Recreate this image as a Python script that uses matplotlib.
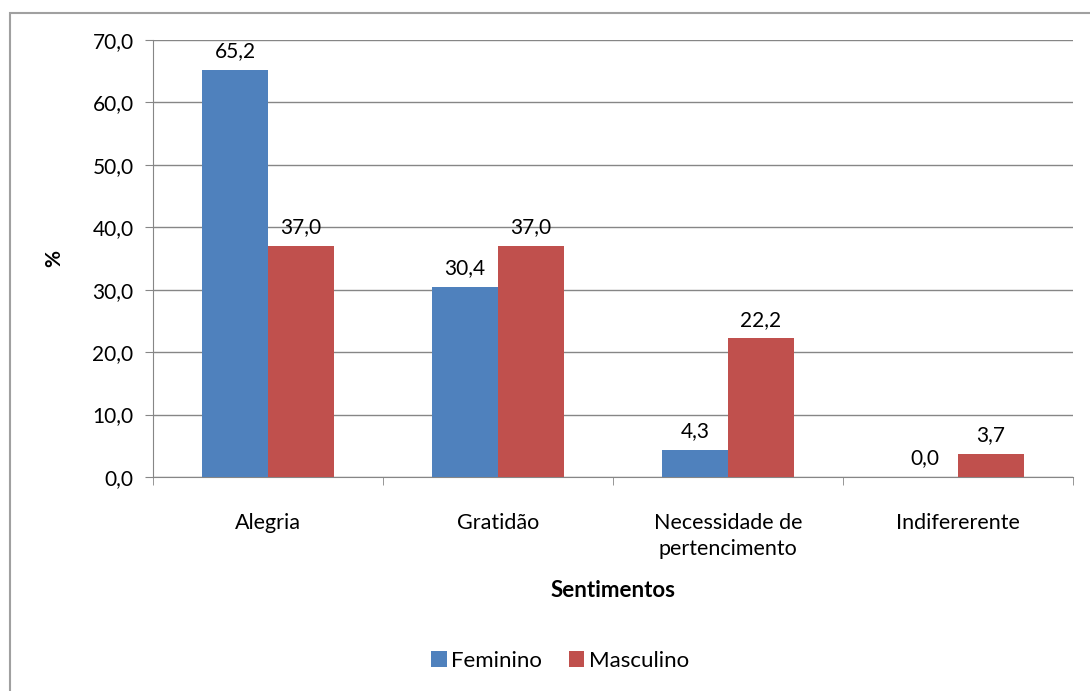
import numpy as np
import matplotlib.pyplot as plt
from matplotlib.patches import Rectangle

plt.rcParams['font.family'] = ['Lato', 'DejaVu Sans']

categorias = ['Alegria', 'Gratidão', 'Necessidade de\npertencimento', 'Indifererente']
feminino = [65.2, 30.4, 4.3, 0.0]
masculino = [37.0, 37.0, 22.2, 3.7]

azul = '#4f81bd'
vermelho = '#c0504d'

fig = plt.figure(figsize=(10.9, 6.91), dpi=100)
ax = fig.add_axes([153/1090, 1 - 477/691, 920/1090, 437/691])

# moldura externa do grafico
fig.patches.append(Rectangle((10/1090, -0.01), 1.0, 1 - 13/691 + 0.01,
                             transform=fig.transFigure, fill=False,
                             edgecolor='#a0a0a0', linewidth=1.5))

x = np.arange(len(categorias))
w = 0.287
b1 = ax.bar(x - w/2, feminino, w, color=azul, label='Feminino', zorder=3)
b2 = ax.bar(x + w/2, masculino, w, color=vermelho, label='Masculino', zorder=3)

for barras, vals in [(b1, feminino), (b2, masculino)]:
    for b, v in zip(barras, vals):
        ax.text(b.get_x() + b.get_width()/2, v + 1.4, f'{v:.1f}'.replace('.', ','),
                ha='center', va='bottom', fontsize=15)

ax.set_xlim(-0.5, 3.5)
ax.set_ylim(0, 70)
ax.set_yticks(np.arange(0, 71, 10))
ax.set_yticklabels([f'{t:.1f}'.replace('.', ',') for t in np.arange(0, 71, 10)], fontsize=15)
ax.yaxis.grid(True, color='#868686', linewidth=1.0, zorder=0)

ax.set_xticks(x)
ax.set_xticklabels(categorias, fontsize=15.5, linespacing=1.35)
ax.set_xticks(np.arange(-0.5, 4, 1), minor=True)
ax.tick_params(axis='x', which='major', length=0, pad=26)
ax.tick_params(axis='x', which='minor', length=6, color='#868686')
ax.tick_params(axis='y', length=6, color='#868686', pad=8)

for s in ['top', 'right']:
    ax.spines[s].set_visible(False)
ax.spines['left'].set_color('#868686')
ax.spines['bottom'].set_color('#868686')

ax.set_xlabel('Sentimentos', fontsize=16, fontweight='bold', labelpad=15)
ax.set_ylabel('%', fontsize=15, fontweight='bold', labelpad=20)

fig.legend(handles=[b1, b2], loc='center', bbox_to_anchor=(560/1090, 1 - 661/691),
           ncol=2, frameon=False, fontsize=16, handlelength=0.7, handleheight=0.7,
           handletextpad=0.2, columnspacing=1.2)

fig.savefig('out.png', dpi=100)
